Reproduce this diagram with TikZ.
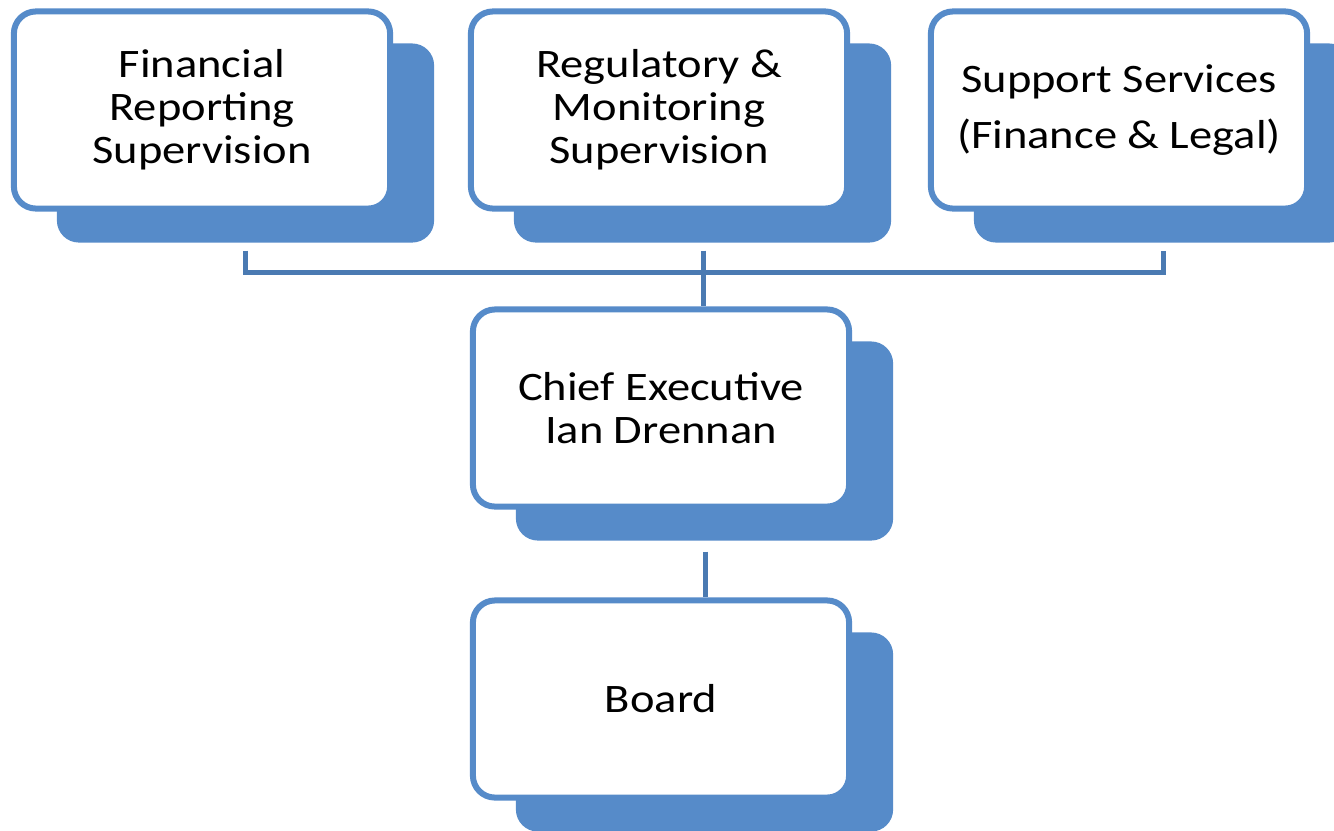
\documentclass[tikz,border=0pt]{standalone}
\usepackage{fontspec}
\setmainfont{Carlito}[FakeStretch=1.15]
\usetikzlibrary{calc,backgrounds}
\definecolor{boxblue}{RGB}{86,139,201}
\definecolor{linkblue}{RGB}{74,122,178}

\begin{document}
\begin{tikzpicture}[x=0.01cm,y=-0.01cm,
  unit/.style={draw=boxblue,line width=0.06cm,fill=white,rounded corners=0.22cm,
    minimum width=3.76cm,minimum height=1.97cm,align=center,
    font=\fontsize{11.5}{12.2}\selectfont},
  link/.style={draw=linkblue,line width=0.05cm}]
  \useasboundingbox (0,0) rectangle (1334,830);
  \node[unit] (fin) at (202,110) {Financial\\Reporting\\Supervision};
  \node[unit] (reg) at (659,110) {Regulatory \&\\Monitoring\\Supervision};
  \node[unit] (sup) at (1119,110) {Support Services\\[0.13cm](Finance \& Legal)};
  \node[unit] (ceo) at (661,408) {Chief Executive\\Ian Drennan};
  \node[unit] (board) at (661,699) {Board};
  % shadows behind the boxes
  \begin{scope}[on background layer]
    \foreach \n in {fin,reg,sup,ceo,board}
      \fill[boxblue,rounded corners=0.22cm] ($(\n.north west)+(46,35)$) rectangle ($(\n.south east)+(41,31)$);
  \end{scope}
  % connectors
  \draw[link] ($(fin.south)+(43,39)$) |- ($(sup.south)+(44,61)$) -- ($(sup.south)+(44,39)$);
  \draw[link] ($(reg.south)+(44,39)$) -- ($(ceo.north)+(42,0)$);
  \draw[link] ($(ceo.south)+(44,42)$) -- ($(board.north)+(44,0)$);
\end{tikzpicture}
\end{document}
